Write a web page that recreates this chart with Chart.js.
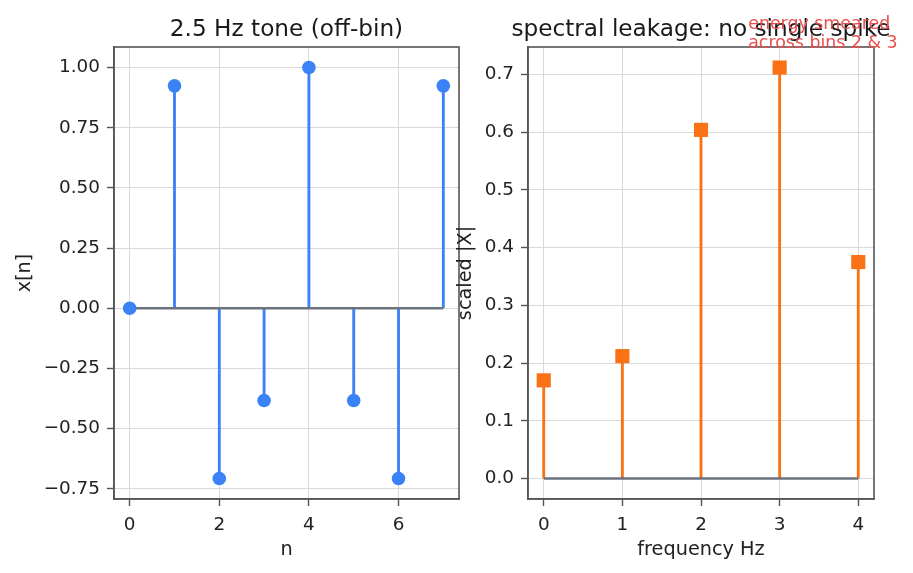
<!DOCTYPE html>
<html>
<head>
<meta charset="utf-8">
<script src="https://cdn.jsdelivr.net/npm/chart.js@4.4.1/dist/chart.umd.min.js"></script>
<style>
html,body{margin:0;padding:0;background:#fff}
body{width:913px;height:573px;position:relative;overflow:hidden}
.painel{position:absolute;top:0;height:573px}
</style>
</head>
<body>
<div class="painel" style="left:0;width:470px"><canvas id="graficoSinal" width="470" height="573"></canvas></div>
<div class="painel" style="left:440px;width:473px"><canvas id="graficoEspectro" width="473" height="573"></canvas></div>
<script>
// amostras do sinal
let amostrasN=[0,1,2,3,4,5,6,7]
let valoresX=[0,0.924,-0.707,-0.383,1.0,-0.383,-0.707,0.924]
let ticksNx=[0,2,4,6]
let ticksNy=[-0.75,-0.5,-0.25,0,0.25,0.5,0.75,1.0]

// espectro
let frequenciasHz=[0,1,2,3,4]
let magnitudes=[0.170,0.212,0.604,0.712,0.375]
let ticksFx=[0,1,2,3,4]
let ticksFy=[0,0.1,0.2,0.3,0.4,0.5,0.6,0.7]

let FONTE='"DejaVu Sans"'
let AZUL='#3b82f6'
let LARANJA='#f97316'
let CINZA='#6b7280'

Chart.defaults.font.family=FONTE
Chart.defaults.color='#222'

function margem(arr){
let mn=Math.min(...arr)
let mx=Math.max(...arr)
let d=(mx-mn)*0.05
return[mn-d,mx+d]
}

function menos(v,casas){
let s=Math.abs(v).toFixed(casas)
return v<0?'\u2212'+s:s
}

let moldura={
id:'moldura',
afterDraw(chart,args,opts){
let{ctx,chartArea:a}=chart
ctx.save()
ctx.strokeStyle='#555'
ctx.lineWidth=1.6
ctx.strokeRect(a.left,a.top,a.right-a.left,a.bottom-a.top)
ctx.fillStyle='#1a1a1a'
ctx.font='23.2px '+FONTE
ctx.textAlign='center'
ctx.textBaseline='alphabetic'
ctx.fillText(opts.titulo,(a.left+a.right)/2,36)
if(opts.nota){
let px=chart.scales.x.getPixelForValue(opts.nota.x)
ctx.fillStyle='#e94f4f'
ctx.font='17.4px '+FONTE
ctx.textAlign='left'
opts.nota.linhas.forEach((l,i)=>{
ctx.fillText(l,px,29+i*19)
})
}
ctx.restore()
}
}

function eixo(lim,ticks,titulo,casas,tamanho,horizontal){
return{
type:'linear',
min:lim[0],
max:lim[1],
offset:false,
afterBuildTicks:s=>{s.ticks=ticks.map(v=>({value:v}))},
afterFit:s=>{
if(horizontal){s.height=tamanho}else{s.width=tamanho}
},
ticks:{
font:{size:18.4},
color:'#222',
padding:horizontal?8:7,
autoSkip:false,
maxRotation:0,
callback:v=>menos(v,casas)
},
grid:{
offset:false,
color:'#d9d9d9',
lineWidth:1,
tickColor:'#555',
tickLength:7,
tickWidth:1.4
},
border:{display:true,color:'#555',width:1.6},
title:{
display:true,
text:titulo,
font:{size:19.3},
color:'#222',
padding:0
}
}
}

function montar(id,xs,ys,cor,ponto,raio,xLim,yLim,xTicks,yTicks,xTitulo,yTitulo,casasX,casasY,pad,yLarg,titulo,nota){
let pontos=xs.map((x,i)=>({x:x,y:ys[i]}))
return new Chart(document.getElementById(id),{
type:'scatter',
data:{
datasets:[
{
type:'scatter',
data:pontos,
backgroundColor:cor,
borderColor:cor,
borderWidth:0,
pointStyle:ponto,
pointRadius:raio,
pointHoverRadius:raio,
order:0,
clip:false
},
{
type:'line',
data:[{x:xs[0],y:0},{x:xs[xs.length-1],y:0}],
borderColor:CINZA,
borderWidth:2.6,
pointRadius:0,
order:1,
clip:false
},
{
type:'bar',
data:pontos,
backgroundColor:cor,
borderWidth:0,
barThickness:2.2,
order:2
}
]
},
options:{
responsive:false,
animation:false,
events:[],
layout:{padding:pad},
plugins:{
legend:{display:false},
tooltip:{enabled:false},
moldura:{titulo:titulo,nota:nota}
},
scales:{
x:eixo(xLim,xTicks,xTitulo,casasX,63,true),
y:eixo(yLim,yTicks,yTitulo,casasY,yLarg,false)
}
},
plugins:[moldura]
})
}

montar('graficoSinal',amostrasN,valoresX,AZUL,'circle',6.8,
margem(amostrasN),margem(valoresX),ticksNx,ticksNy,'n','x[n]',0,2,
{left:13,top:47,right:11,bottom:11},101,'2.5 Hz tone (off-bin)',null)

montar('graficoEspectro',frequenciasHz,magnitudes,LARANJA,'rect',10,
margem(frequenciasHz),margem([0].concat(magnitudes)),ticksFx,ticksFy,'frequency Hz','scaled |X|',0,1,
{left:14,top:47,right:39,bottom:11},74,'spectral leakage: no single spike',
{x:2.6,linhas:['energy smeared','across bins 2 & 3']})
</script>
</body>
</html>
